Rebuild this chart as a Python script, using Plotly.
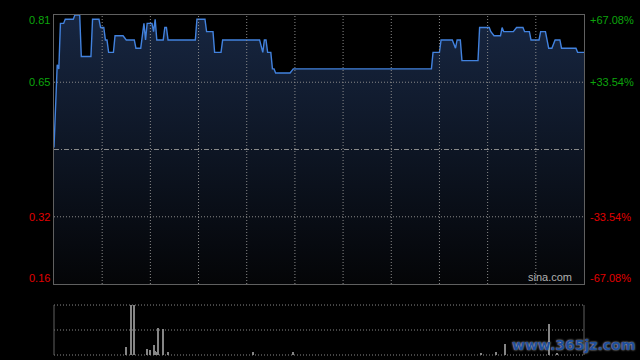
import plotly.graph_objects as go

# ---- data ----
prev_close = 0.485
y_low, y_high = 0.1597, 0.8103

minutes = [0, 2, 3, 4, 6, 7, 12, 13, 16, 17, 23, 24, 28, 29, 31, 32, 33, 34, 37, 38, 43,
           45, 50, 51, 54, 56, 57, 58, 61, 62, 63, 64, 68, 69, 70, 71, 88, 89, 94, 95, 99,
           100, 104, 105, 128, 130, 131, 132, 133, 135, 136, 137, 138, 147, 149, 235, 236,
           240, 241, 248, 250, 251, 253, 254, 264, 265, 271, 272, 274, 278, 279, 280, 286,
           288, 292, 293, 296, 297, 302, 303, 306, 307, 308, 310, 312, 315, 316, 325, 326, 330]
prices = [0.49, 0.69, 0.68, 0.79, 0.79, 0.80, 0.80, 0.81, 0.81, 0.71, 0.71, 0.80, 0.80, 0.78, 0.78,
          0.75, 0.75, 0.72, 0.72, 0.76, 0.76, 0.75, 0.75, 0.73, 0.73, 0.79, 0.75, 0.79, 0.79,
          0.77, 0.80, 0.75, 0.75, 0.78, 0.78, 0.75, 0.75, 0.80, 0.80, 0.77, 0.77, 0.72, 0.72,
          0.75, 0.75, 0.72, 0.75, 0.75, 0.72, 0.72, 0.68, 0.68, 0.67, 0.67, 0.68, 0.68, 0.72,
          0.72, 0.75, 0.75, 0.73, 0.75, 0.75, 0.70, 0.70, 0.78, 0.78, 0.77, 0.76, 0.76, 0.78,
          0.77, 0.77, 0.78, 0.78, 0.77, 0.77, 0.75, 0.75, 0.77, 0.77, 0.75, 0.73, 0.73, 0.75,
          0.75, 0.73, 0.73, 0.72, 0.72]

vol_minutes = [45, 48, 50, 58, 60, 62, 63, 64, 65, 68, 71, 124, 149, 266, 275, 281, 308, 313]
volumes = [160, 1000, 1000, 110, 90, 190, 70, 50, 530, 510, 50, 50, 50, 40, 50, 210, 610, 40]
vol_max = 1000

grid_minutes = list(range(30, 330, 30))
price_ticks = [0.1597, 0.3223, 0.6477, 0.8103]
price_grid = [0.3223, 0.6477]
price_labels = ["0.16", "0.32", "0.65", "0.81"]
pct_labels = ["-67.08%", "-33.54%", "+33.54%", "+67.08%"]
label_colors = ["#e00000", "#e00000", "#0ca50c", "#0ca50c"]

GRID = "#8a8a8a"
BORDER = "#606060"
DOT = "1px,2px"

fig = go.Figure()

# baseline for fill
fig.add_trace(go.Scatter(x=[0, 330], y=[y_low, y_low], mode="lines",
                         line=dict(width=0, color="rgba(0,0,0,0)"),
                         hoverinfo="skip", showlegend=False, xaxis="x", yaxis="y"))
fig.add_trace(go.Scatter(
    x=minutes, y=prices, mode="lines",
    line=dict(color="#4282de", width=1.4),
    fill="tonexty",
    fillgradient=dict(type="vertical", start=y_low, stop=y_high,
                      colorscale=[[0, "#040507"], [1, "#172641"]]),
    showlegend=False, xaxis="x", yaxis="y"))

fig.add_trace(go.Bar(x=vol_minutes, y=volumes, width=0.6,
                     marker=dict(color="#858585", line=dict(width=0)),
                     showlegend=False, xaxis="x2", yaxis="y2"))

shapes = []
for m in grid_minutes:
    shapes.append(dict(type="line", xref="x", yref="y domain", x0=m, x1=m, y0=0, y1=1,
                       layer="above", line=dict(color=GRID, width=1, dash=DOT)))
for v in price_grid:
    shapes.append(dict(type="line", xref="x domain", yref="y", x0=0, x1=1, y0=v, y1=v,
                       layer="above", line=dict(color=GRID, width=1, dash=DOT)))
shapes += [
    dict(type="line", xref="x domain", yref="y", x0=0, x1=1, y0=prev_close, y1=prev_close,
         layer="above", line=dict(color="#8a8a8a", width=1, dash="5px,2px,1px,2px")),
    dict(type="line", xref="x2 domain", yref="y2 domain", x0=0, x1=1, y0=1, y1=1,
         line=dict(color=GRID, width=1, dash=DOT)),
    dict(type="line", xref="x2 domain", yref="y2 domain", x0=0, x1=1, y0=0.5, y1=0.5,
         line=dict(color=GRID, width=1, dash=DOT)),
    dict(type="line", xref="x2 domain", yref="y2 domain", x0=0, x1=1, y0=0, y1=0,
         line=dict(color=GRID, width=1, dash=DOT)),
    dict(type="line", xref="x2 domain", yref="y2 domain", x0=0, x1=0, y0=0, y1=1,
         line=dict(color=BORDER, width=1)),
    dict(type="line", xref="x2 domain", yref="y2 domain", x0=1, x1=1, y0=0, y1=1,
         line=dict(color=BORDER, width=1)),
]

annotations = []
shifts = [6, 0, 0, -5]
for v, lab, pl, col, sh in zip(price_ticks, price_labels, pct_labels, label_colors, shifts):
    annotations.append(dict(xref="x domain", yref="y", x=0, y=v, text=lab, showarrow=False,
                            xanchor="right", yanchor="middle", xshift=-2, yshift=sh,
                            font=dict(family="Liberation Sans, Arial", size=11, color=col)))
    annotations.append(dict(xref="x domain", yref="y", x=1, y=v, text=pl, showarrow=False,
                            xanchor="left", yanchor="middle", xshift=4, yshift=sh,
                            font=dict(family="Liberation Sans, Arial", size=11, color=col)))
annotations.append(dict(xref="x domain", yref="y domain", x=1, y=0, text="sina.com",
                        showarrow=False, xanchor="right", yanchor="bottom", xshift=-10, yshift=-1,
                        font=dict(family="Liberation Sans, Arial", size=11, color="#b0b0b0")))
annotations.append(dict(xref="paper", yref="paper", x=0.981, y=0.03, text="<b>www.365jz.com</b>",
                        showarrow=False, xanchor="center", yanchor="middle",
                        font=dict(family="DejaVu Sans", size=14, color="#1f4f9c",
                                  shadow="0px 0px 2px #e0e0e0")))

fig.update_layout(
    width=640, height=360,
    margin=dict(l=54, r=56, t=15, b=5),
    paper_bgcolor="#000000", plot_bgcolor="#000000",
    showlegend=False, bargap=0,
    xaxis=dict(domain=[0, 1], range=[0, 330], anchor="y",
               showgrid=False, showticklabels=False, ticks="", zeroline=False,
               showline=True, mirror=True, linecolor=BORDER, linewidth=1),
    yaxis=dict(domain=[0.2088, 1], range=[y_low, y_high], anchor="x",
               showgrid=False, showticklabels=False, ticks="", zeroline=False,
               showline=True, mirror=True, linecolor=BORDER, linewidth=1),
    xaxis2=dict(domain=[0, 1], range=[0, 330], anchor="y2", showgrid=False,
                showticklabels=False, ticks="", zeroline=False, showline=False),
    yaxis2=dict(domain=[0, 0.147], range=[0, vol_max], anchor="x2", showgrid=False,
                showticklabels=False, ticks="", zeroline=False, showline=False),
    shapes=shapes, annotations=annotations,
)

fig.write_html("out.html")
